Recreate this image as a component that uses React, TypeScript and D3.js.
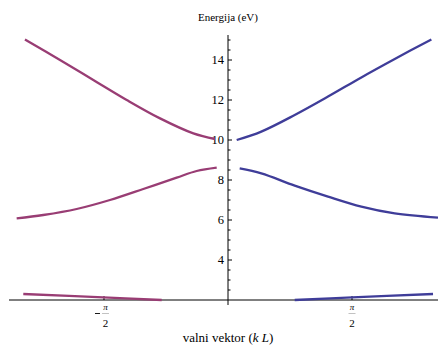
import React from "react";
import * as d3 from "d3";

// Band data: [k (rad), E (eV)]
const upperLeft: [number, number][] = [
  [-2.572, 15.03], [-2.128, 14.0], [-1.706, 13.0], [-1.283, 12.0],
  [-0.861, 11.08], [-0.439, 10.33], [-0.165, 10.05],
];
const upperRight: [number, number][] = [
  [0.11, 10.0], [0.422, 10.42], [0.845, 11.25], [1.267, 12.17],
  [1.689, 13.13], [2.112, 14.05], [2.576, 15.03],
];
const middleLeft: [number, number][] = [
  [-2.677, 6.08], [-2.34, 6.25], [-1.917, 6.55], [-1.495, 7.0],
  [-1.073, 7.55], [-0.65, 8.12], [-0.397, 8.45], [-0.143, 8.62],
];
const middleRight: [number, number][] = [
  [0.148, 8.58], [0.422, 8.33], [0.845, 7.72], [1.267, 7.17],
  [1.689, 6.67], [2.112, 6.33], [2.66, 6.12],
];
const lowerLeft: [number, number][] = [
  [-2.593, 2.3], [-1.58, 2.13], [-0.84, 2.0],
];
const lowerRight: [number, number][] = [
  [0.845, 2.0], [1.575, 2.13], [2.597, 2.3],
];

const yMajorTicks = [4, 6, 8, 10, 12, 14];
const xTicks = [-Math.PI / 2, Math.PI / 2];

const COLOR_LEFT = "#993d74";
const COLOR_RIGHT = "#3f3d99";

export default function App() {
  const W = 438;
  const H = 347;
  const x = d3.scaleLinear().domain([-2.774, 2.66]).range([9, 438]);
  const y = d3.scaleLinear().domain([2, 15.25]).range([300, 35]);
  const line = d3
    .line<[number, number]>()
    .x((d) => x(d[0]))
    .y((d) => y(d[1]))
    .curve(d3.curveCatmullRom.alpha(0.5));

  const x0 = x(0);
  const y0 = y(2);
  const minor = d3.range(2.5, 15.01, 0.5).filter((v) => Math.abs(v - Math.round(v / 2) * 2) > 1e-6);

  const series: [[number, number][], string][] = [
    [upperLeft, COLOR_LEFT],
    [middleLeft, COLOR_LEFT],
    [lowerLeft, COLOR_LEFT],
    [upperRight, COLOR_RIGHT],
    [middleRight, COLOR_RIGHT],
    [lowerRight, COLOR_RIGHT],
  ];

  const font = "'Liberation Serif', 'DejaVu Serif', serif";

  return (
    <svg
      width={W}
      height={H}
      style={{ position: "absolute", left: 0, top: 0, background: "#fff" }}
      fontFamily={font}
    >
      {/* axes */}
      <line x1={9} x2={438} y1={y0} y2={y0} stroke="#000" strokeWidth={1} />
      <line x1={x0} x2={x0} y1={35} y2={y0 + 5} stroke="#000" strokeWidth={1} />
      {yMajorTicks.map((t) => (
        <g key={"ym" + t}>
          <line x1={x0} x2={x0 + 4} y1={y(t)} y2={y(t)} stroke="#000" />
          <text x={x0 - 4} y={y(t)} dy="0.35em" textAnchor="end" fontSize={12.5}>
            {t}
          </text>
        </g>
      ))}
      {minor.map((t) => (
        <line key={"yn" + t} x1={x0} x2={x0 + 2.5} y1={y(t)} y2={y(t)} stroke="#000" />
      ))}
      {xTicks.map((t) => {
        const cx = x(t);
        const fx = cx + (t < 0 ? 1.5 : 0);
        return (
          <g key={"xt" + t}>
            <line x1={cx} x2={cx} y1={y0} y2={y0 - 4} stroke="#000" />
            {t < 0 && (
              <line x1={fx - 10.5} x2={fx - 5.5} y1={313.5} y2={313.5} stroke="#000" strokeWidth={0.9} />
            )}
            <text x={fx} y={307} dy="0.35em" textAnchor="middle" fontSize={9} fontStyle="italic">
              π
            </text>
            <line x1={fx - 3.5} x2={fx + 3.5} y1={313.5} y2={313.5} stroke="#999" strokeWidth={0.6} />
            <text x={fx} y={323} dy="0.35em" textAnchor="middle" fontSize={11}>
              2
            </text>
          </g>
        );
      })}
      {/* curves */}
      {series.map(([d, c], i) => (
        <path key={i} d={line(d) || ""} fill="none" stroke={c} strokeWidth={2.3} strokeLinecap="butt" />
      ))}
      {/* labels */}
      <text x={x0} y={21} textAnchor="middle" fontSize={11}>
        Energija (eV)
      </text>
      <text x={x0} y={342} textAnchor="middle" fontSize={13}>
        valni vektor (<tspan fontStyle="italic">k L</tspan>)
      </text>
    </svg>
  );
}
